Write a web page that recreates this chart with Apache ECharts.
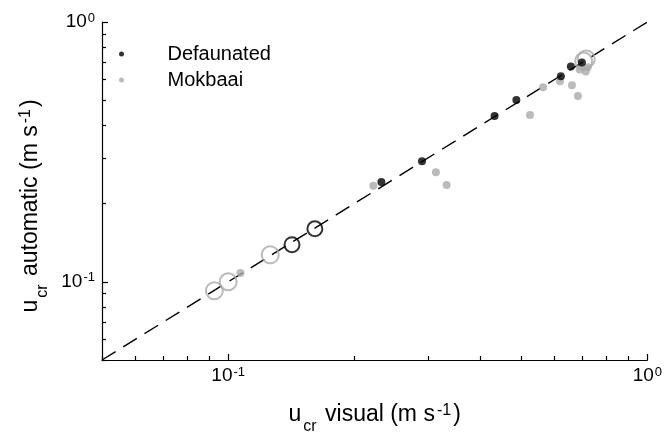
<!DOCTYPE html>
<html>
<head>
<meta charset="utf-8">
<script src="https://cdn.jsdelivr.net/npm/echarts@6/dist/echarts.min.js"></script>
<style>
  html, body { margin: 0; padding: 0; background: #fff; }
  #chart { width: 665px; height: 440px; }
</style>
</head>
<body>
<div id="chart"></div>
<script>
// Critical velocity: visual vs automatic detection, log-log
const defaunatedDots = [
  [0.232, 0.242], [0.290, 0.291], [0.432, 0.435], [0.487, 0.501],
  [0.622, 0.618], [0.657, 0.674], [0.698, 0.698]
];
const mokbaaiDots = [
  [0.107, 0.108], [0.222, 0.234], [0.313, 0.264], [0.332, 0.236],
  [0.525, 0.439], [0.564, 0.561], [0.619, 0.592], [0.661, 0.571],
  [0.683, 0.519], [0.690, 0.657], [0.713, 0.645], [0.721, 0.669]
];
const defaunatedRings = [[0.142, 0.139], [0.161, 0.160]];
const mokbaaiRings = [
  [0.0927, 0.0924], [0.100, 0.100], [0.126, 0.127],
  [0.705, 0.708], [0.715, 0.720]
];
const oneToOne = [[0.05, 0.05], [1, 1]];
const majorTicks = [0.1, 1];
const minorTicks = [0.05, 0.06, 0.07, 0.08, 0.09, 0.2, 0.3, 0.4, 0.5, 0.6, 0.7, 0.8, 0.9];
const tickLabels = { '0.1': '-1', '1': '0' };

const FONT = 'Liberation Sans, Arial, sans-serif';
const BLACK = '#000000';
const GREY = '#aaaaaa';

// tokens sit centred in their line, so padding shifts super/subscripts
const tickRich = {
  b: { fontFamily: FONT, fontSize: 19, color: BLACK, lineHeight: 20 },
  s: { fontFamily: FONT, fontSize: 13, color: BLACK, lineHeight: 13, padding: [0, 0, 8, 1] }
};
const titleRich = {
  m: { fontFamily: FONT, fontSize: 23, color: BLACK, lineHeight: 26 },
  sub: { fontFamily: FONT, fontSize: 16, color: BLACK, lineHeight: 16, padding: [24, 2, 0, 2] },
  sup: { fontFamily: FONT, fontSize: 16, color: BLACK, lineHeight: 16, padding: [0, 2, 9, 2] }
};
const tickFormatter = v => {
  const key = String(Math.round(v * 1000) / 1000);
  return tickLabels[key] ? '{b|10}{s|' + tickLabels[key] + '}' : '';
};

function mainAxis(name, gap, isY) {
  return {
    type: 'log', logBase: 10, min: 0.05, max: 1,
    name: name, nameLocation: 'middle', nameGap: gap,
    nameRotate: isY ? 90 : 0,
    nameTextStyle: { rich: titleRich, padding: isY ? [0, 30, 0, 0] : 0 },
    axisLine: { show: true, onZero: false, lineStyle: { color: BLACK, width: 1.2 } },
    axisTick: { show: true, inside: true, length: 6, customValues: majorTicks, lineStyle: { color: BLACK, width: 1.2 } },
    axisLabel: {
      show: true, customValues: majorTicks, formatter: tickFormatter, rich: tickRich,
      margin: isY ? 7 : 6
    },
    splitLine: { show: false }, minorTick: { show: false }
  };
}
function minorAxis() {
  return {
    type: 'log', logBase: 10, min: 0.05, max: 1,
    axisLine: { show: false },
    axisTick: { show: true, inside: true, length: 4, customValues: minorTicks, lineStyle: { color: BLACK, width: 1.2 } },
    axisLabel: { show: false }, splitLine: { show: false }
  };
}

const chart = echarts.init(document.getElementById('chart'), null, { renderer: 'canvas' });
chart.setOption({
  animation: false,
  backgroundColor: '#ffffff',
  grid: { left: 102, right: 15, top: 22, bottom: 76, containLabel: false },
  xAxis: [
    mainAxis('{m|u}{sub|cr}{m| visual (m s}{sup|-1}{m|)}', 42, false),
    Object.assign(minorAxis(), { position: 'bottom' })
  ],
  yAxis: [
    mainAxis('{m|u}{sub|cr}{m| automatic (m s}{sup|-1}{m|)}', 48, true),
    Object.assign(minorAxis(), { position: 'left' })
  ],
  legend: {
    data: ['Defaunated', 'Mokbaai'],
    orient: 'vertical', left: 114, top: 39,
    icon: 'circle', itemWidth: 82, itemHeight: 5, itemGap: 6,
    textStyle: { fontFamily: FONT, fontSize: 20, color: BLACK },
    selectedMode: false
  },
  series: [
    {
      name: '1:1', type: 'line', data: oneToOne, showSymbol: false, silent: true, z: 1,
      lineStyle: { color: BLACK, width: 1.4, type: [16, 9] }
    },
    {
      name: 'Mokbaai visual', type: 'scatter', data: mokbaaiRings, symbol: 'circle', symbolSize: 17, z: 2,
      itemStyle: { color: 'rgba(0,0,0,0)', borderColor: GREY, borderWidth: 2 }
    },
    {
      name: 'Defaunated visual', type: 'scatter', data: defaunatedRings, symbol: 'circle', symbolSize: 15, z: 3,
      itemStyle: { color: 'rgba(0,0,0,0)', borderColor: BLACK, borderWidth: 2 }
    },
    {
      name: 'Mokbaai', type: 'scatter', data: mokbaaiDots, symbol: 'circle', symbolSize: 8, z: 4,
      itemStyle: { color: GREY }
    },
    {
      name: 'Defaunated', type: 'scatter', data: defaunatedDots, symbol: 'circle', symbolSize: 8, z: 5,
      itemStyle: { color: BLACK }
    }
  ]
});
</script>
</body>
</html>
